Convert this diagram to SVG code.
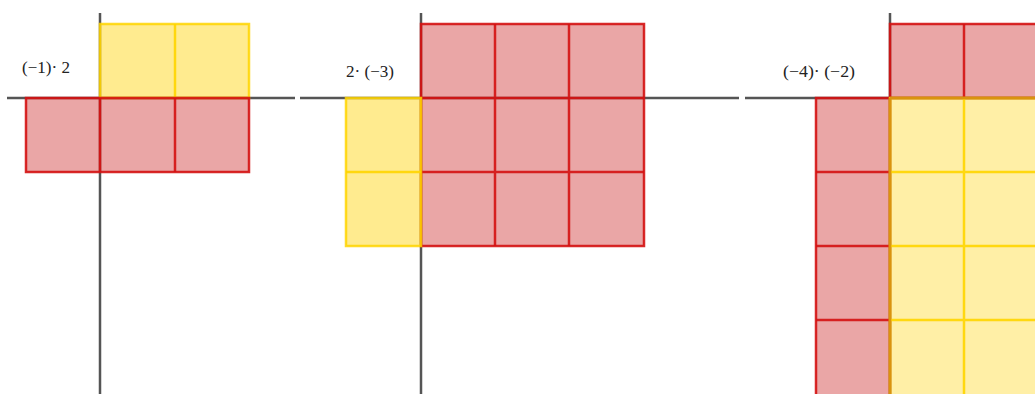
<svg xmlns="http://www.w3.org/2000/svg" width="1035" height="394" viewBox="0 0 1035 394">
<style>
.axis{stroke:#555;stroke-width:2.5;fill:none}
.rf{fill:#CA2020;fill-opacity:0.4;stroke:#D41212;stroke-opacity:0.9;stroke-width:2.5}
.rl{fill:none;stroke:#D41212;stroke-opacity:0.9;stroke-width:2.5}
.yf{fill:#FFD100;fill-opacity:0.44;stroke:#FFD500;stroke-opacity:0.85;stroke-width:2.5}
.yf3{fill:#FFD100;fill-opacity:0.35;stroke:#FFD500;stroke-opacity:0.85;stroke-width:2.5}
.yl{fill:none;stroke:#FFD500;stroke-opacity:0.9;stroke-width:2.5}
.lbl{font-family:"Liberation Serif","DejaVu Serif",serif;font-size:16px;fill:#222}
</style>
<rect width="1035" height="394" fill="#fff"/>
<g id="panel1">
  <path class="axis" d="M7 98H295M100 13V394"/>
  <rect class="yf" x="100" y="24" width="149" height="74"/>
  <path class="yl" d="M175 24V98"/>
  <rect class="rf" x="26" y="98" width="223" height="74"/>
  <path class="rl" d="M100 98V172M175 98V172"/>
  <text class="lbl" x="22" y="73" textLength="48" lengthAdjust="spacingAndGlyphs">(−1)· 2</text>
</g>
<g id="panel2">
  <path class="axis" d="M300 98H739M421 13V394"/>
  <rect class="rf" x="421" y="24" width="223" height="222"/>
  <path class="rl" d="M495 24V246M569 24V246M421 98H644M421 172H644"/>
  <rect class="yf" x="346" y="98" width="75" height="148"/>
  <path class="yl" d="M346 172H421"/>
  <text class="lbl" x="346" y="77" textLength="48" lengthAdjust="spacingAndGlyphs">2· (−3)</text>
</g>
<g id="panel3">
  <path class="axis" d="M745 98H1035M890 13V394"/>
  <rect class="rf" x="890" y="24" width="160" height="74"/>
  <path class="rl" d="M964 24V98"/>
  <rect class="rf" x="816" y="98" width="74" height="310"/>
  <path class="rl" d="M816 172H890M816 246H890M816 320H890"/>
  <rect class="yf3" x="890" y="98" width="160" height="310"/>
  <path class="yl" d="M964 98V394M890 172H1035M890 246H1035M890 320H1035"/>
  <path d="M890 98V394M890 98H1035" fill="none" stroke="#D9930F" stroke-width="2.5"/>
  <text class="lbl" x="783" y="77" textLength="72" lengthAdjust="spacingAndGlyphs">(−4)· (−2)</text>
</g>
</svg>
